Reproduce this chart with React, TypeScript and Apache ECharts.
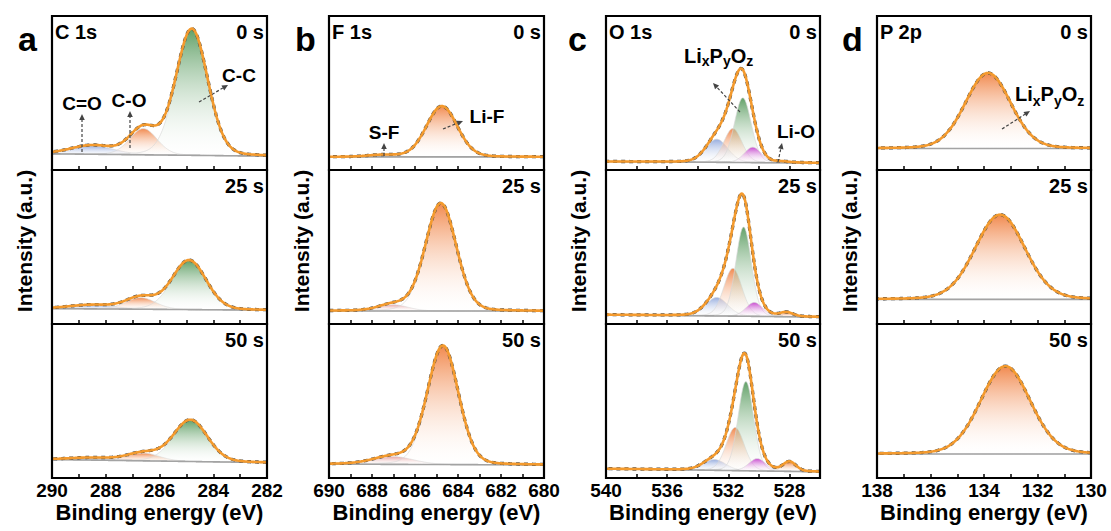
import React, { useEffect, useRef } from 'react';
import * as echarts from 'echarts';

const FONT = 'Arial, "Liberation Sans", Helvetica, sans-serif';

// ---------- layout ----------
const colLeft = [52, 329, 606, 877];
const colWidth = [215, 215, 214, 214];
const rowTop = [16, 170, 324];
const rowHeight = 154;

// ---------- texts ----------
const panelLetters = ['a', 'b', 'c', 'd'];
const coreLevels = ['C 1s', 'F 1s', 'O 1s', 'P 2p'];
const timeLabels = ['0 s', '25 s', '50 s'];
const xTitle = 'Binding energy (eV)';
const yTitle = 'Intensity (a.u.)';

// ---------- axes ----------
const xRanges = [[282, 290], [680, 690], [526, 540], [130, 138]];
const tickSteps = [1, 1, 2, 1];
const labelSteps = [2, 2, 4, 2];

// ---------- data (fractions of panel height) ----------
// background level [at high-BE edge, at low-BE edge] for 0 s, 25 s, 50 s
const bgC1s = [[0.105, 0.09], [0.10, 0.09], [0.12, 0.10]];
const bgF1s = [[0.085, 0.085], [0.085, 0.084], [0.09, 0.085]];
const bgO1s = [[0.055, 0.045], [0.06, 0.045], [0.06, 0.04]];
const bgP2p = [[0.14, 0.14], [0.16, 0.16], [0.156, 0.156]];

// fitted components: [centre eV, height, FWHM eV] for 0 s, 25 s, 50 s
const c1sCC = [[284.8, 0.82, 1.4], [284.9, 0.32, 1.5], [284.85, 0.27, 1.5]];
const c1sCO = [[286.6, 0.17, 1.2], [286.7, 0.075, 1.3], [286.6, 0.05, 1.4]];
const c1sCdO = [[288.5, 0.055, 1.9], [288.5, 0.025, 2.0], [288.5, 0.015, 2.0]];
const f1sLiF = [[684.75, 0.33, 1.7], [684.8, 0.70, 1.7], [684.7, 0.77, 1.7]];
const f1sSF = [[687.5, 0.012, 1.6], [687.0, 0.04, 1.6], [687.0, 0.05, 2.2]];
const o1sBlue = [[532.75, 0.15, 1.7], [532.75, 0.12, 1.7], [532.9, 0.07, 1.7]];
const o1sOrange = [[531.7, 0.22, 1.4], [531.7, 0.31, 1.4], [531.55, 0.28, 1.4]];
const o1sGreen = [[531.05, 0.42, 1.3], [531.0, 0.58, 1.2], [530.85, 0.58, 1.2]];
const o1sMagenta = [[530.4, 0.10, 1.3], [530.3, 0.09, 1.3], [530.1, 0.08, 1.3]];
const o1sLiO = [[528.5, 0.005, 1.0], [528.2, 0.025, 1.0], [528.0, 0.06, 1.0]];
const p2pLiPO = [[133.85, 0.49, 2.0], [133.4, 0.55, 2.2], [133.2, 0.57, 2.2]];

const MIX = 0.12; // Lorentzian fraction of the pseudo-Voigt line shape

// ---------- colours ----------
const GREEN = '#55995b';
const ORANGE = '#f08040';
const BLUE = '#8ea6dc';
const MAGENTA = '#c43acc';
const PINK = '#e59a9a';
const ENVELOPE = '#f39a2e';
const DATA = '#4a4a4a';
const BGLINE = '#a3a3a3';

const panelBg = [bgC1s, bgF1s, bgO1s, bgP2p];
const panelComps = [
  [{ p: c1sCdO, color: BLUE }, { p: c1sCO, color: ORANGE }, { p: c1sCC, color: GREEN }],
  [{ p: f1sSF, color: PINK }, { p: f1sLiF, color: ORANGE }],
  [
    { p: o1sBlue, color: BLUE },
    { p: o1sOrange, color: ORANGE },
    { p: o1sGreen, color: GREEN },
    { p: o1sMagenta, color: MAGENTA },
    { p: o1sLiO, color: ORANGE },
  ],
  [{ p: p2pLiPO, color: ORANGE }],
];

function lineShape(x: number, c: number, h: number, w: number) {
  const d = (x - c) / w;
  return h * ((1 - MIX) * Math.exp(-4 * Math.LN2 * d * d) + MIX / (1 + 4 * d * d));
}

function grad(color: string) {
  return new echarts.graphic.LinearGradient(0, 0, 0, 1, [
    { offset: 0, color },
    { offset: 1, color: 'rgba(255,255,255,0.1)' },
  ]);
}

function arrow(x1: number, y1: number, x2: number, y2: number) {
  const ang = Math.atan2(y2 - y1, x2 - x1);
  const L = 6;
  const W = 2.8;
  const bx = x2 - L * Math.cos(ang);
  const by = y2 - L * Math.sin(ang);
  const px = -Math.sin(ang) * W;
  const py = Math.cos(ang) * W;
  return [
    {
      type: 'line',
      z: 50,
      shape: { x1, y1, x2: bx, y2: by },
      style: { stroke: '#444', lineWidth: 1.2, lineDash: [3, 2] },
    },
    {
      type: 'polygon',
      z: 50,
      shape: { points: [[x2, y2], [bx + px, by + py], [bx - px, by - py]] },
      style: { fill: '#444' },
    },
  ];
}

function txt(x: number, y: number, text: string, size: number, align = 'center', extra: any = {}) {
  return {
    type: 'text',
    z: 60,
    x,
    y,
    ...extra,
    style: {
      text,
      fontSize: size,
      fontWeight: 'bold',
      fontFamily: FONT,
      fill: '#000',
      align,
      verticalAlign: 'middle',
    },
  };
}

function subLabel(left: number, yMain: number, ySub: number) {
  const main = 20;
  const sub = 14;
  const parts: [string, boolean][] = [['Li', false], ['x', true], ['P', false], ['y', true], ['O', false], ['z', true]];
  const widths: Record<string, number> = { Li: 0.889, P: 0.667, O: 0.778, x: 0.556, y: 0.556, z: 0.5 };
  let x = left;
  const out: any[] = [];
  for (const [t, s] of parts) {
    out.push(txt(x, s ? ySub : yMain, t, s ? sub : main, 'left'));
    x += widths[t] * (s ? sub : main);
  }
  return out;
}

function buildOption() {
  const grid: any[] = [];
  const xAxis: any[] = [];
  const yAxis: any[] = [];
  const series: any[] = [];
  const N = 240;

  for (let col = 0; col < 4; col++) {
    const [xmin, xmax] = xRanges[col];
    const xs: number[] = [];
    for (let i = 0; i <= N; i++) xs.push(xmin + ((xmax - xmin) * i) / N);
    for (let row = 0; row < 3; row++) {
      const gi = col * 3 + row;
      grid.push({
        left: colLeft[col],
        top: rowTop[row],
        width: colWidth[col],
        height: rowHeight,
        show: true,
        borderColor: '#000',
        borderWidth: 2.2,
        backgroundColor: 'transparent',
        z: 10,
      });
      const ls = labelSteps[col];
      xAxis.push({
        gridIndex: gi,
        type: 'value',
        min: xmin,
        max: xmax,
        interval: tickSteps[col],
        inverse: true,
        axisLine: { show: false },
        splitLine: { show: false },
        axisTick: { inside: true, length: 4, lineStyle: { color: '#000', width: 1.5 } },
        axisLabel: {
          show: row === 2,
          margin: 3,
          color: '#000',
          fontWeight: 'bold',
          fontSize: 19,
          fontFamily: FONT,
          formatter: (v: number) => (Math.round(v) % ls === 0 ? String(Math.round(v)) : ''),
        },
      });
      yAxis.push({ gridIndex: gi, type: 'value', min: 0, max: 1, show: false });

      const [bHi, bLo] = panelBg[col][row];
      const bg = xs.map((x) => bLo + ((bHi - bLo) * (x - xmin)) / (xmax - xmin));
      const env = bg.slice();
      panelComps[col].forEach((comp) => {
        const [c, h, w] = comp.p[row];
        const vals = xs.map((x) => lineShape(x, c, h, w));
        vals.forEach((v, k) => (env[k] += v));
        const top = xs.map((x, k) => [x, bg[k] + vals[k]]);
        const bottom = xs.map((x, k) => [x, bg[k]]).reverse();
        const color = comp.color;
        series.push({
          type: 'custom',
          coordinateSystem: 'cartesian2d',
          xAxisIndex: gi,
          yAxisIndex: gi,
          silent: true,
          data: top,
          encode: { x: 0, y: 1 },
          renderItem: (params: any, api: any) => {
            if (params.dataIndex !== 0) return null;
            const pts = top.concat(bottom).map((p) => api.coord(p));
            return {
              type: 'polygon',
              shape: { points: pts },
              style: { fill: grad(color), stroke: 'rgba(215,215,215,0.9)', lineWidth: 0.8, opacity: 0.92 },
            };
          },
        });
      });
      series.push({
        type: 'line',
        xAxisIndex: gi,
        yAxisIndex: gi,
        silent: true,
        showSymbol: false,
        symbol: 'none',
        lineStyle: { color: BGLINE, width: 1.6 },
        data: xs.map((x, k) => [x, bg[k]]),
      });
      series.push({
        type: 'line',
        xAxisIndex: gi,
        yAxisIndex: gi,
        silent: true,
        showSymbol: false,
        symbol: 'none',
        lineStyle: { color: DATA, width: 3.3, type: [4, 4] },
        data: xs.map((x, k) => [x, env[k]]),
      });
      series.push({
        type: 'line',
        xAxisIndex: gi,
        yAxisIndex: gi,
        silent: true,
        showSymbol: false,
        symbol: 'none',
        lineStyle: { color: ENVELOPE, width: 2.6 },
        data: xs.map((x, k) => [x, env[k]]),
      });
    }
  }

  const graphic: any[] = [];
  const letterX = [18, 295, 568, 842];
  for (let col = 0; col < 4; col++) {
    graphic.push(txt(letterX[col], 39, panelLetters[col], 34, 'left'));
    graphic.push(txt(colLeft[col] + 3, rowTop[0] + 15.5, coreLevels[col], 20, 'left'));
    for (let row = 0; row < 3; row++) {
      graphic.push(txt(colLeft[col] + colWidth[col] - 3, rowTop[row] + 15.5, timeLabels[row], 20, 'right'));
    }
    graphic.push(txt(colLeft[col] + colWidth[col] / 2, 512, xTitle, 22, 'center'));
    graphic.push(txt(colLeft[col] - 28, 241, yTitle, 21, 'center', { rotation: Math.PI / 2 }));
  }
  // peak annotations
  graphic.push(txt(82, 103, 'C=O', 19));
  graphic.push(txt(129, 100, 'C-O', 19));
  graphic.push(txt(239, 75, 'C-C', 19));
  graphic.push(...arrow(82, 152, 82, 114));
  graphic.push(...arrow(130, 148, 130, 111));
  graphic.push(...arrow(199, 102, 228, 85));
  graphic.push(txt(384, 132, 'S-F', 19));
  graphic.push(txt(487, 116, 'Li-F', 19));
  graphic.push(...arrow(384, 156, 384, 143));
  graphic.push(...arrow(443, 129, 463, 121));
  graphic.push(...subLabel(684, 56, 61));
  graphic.push(...arrow(740, 112, 713, 83));
  graphic.push(txt(796, 131.5, 'Li-O', 19));
  graphic.push(...arrow(778, 162, 782, 143));
  graphic.push(...subLabel(1015, 94, 101));
  graphic.push(...arrow(1002, 129, 1030, 111));

  return {
    animation: false,
    backgroundColor: '#fff',
    grid,
    xAxis,
    yAxis,
    series,
    graphic,
  };
}

export default function App() {
  const ref = useRef<HTMLDivElement>(null);
  useEffect(() => {
    const chart = echarts.init(ref.current as HTMLDivElement, undefined, { renderer: 'svg' });
    chart.setOption(buildOption() as any);
    return () => chart.dispose();
  }, []);
  return (
    <div
      ref={ref}
      style={{ position: 'absolute', left: 0, top: 0, width: 1111, height: 531, background: '#fff' }}
    />
  );
}
